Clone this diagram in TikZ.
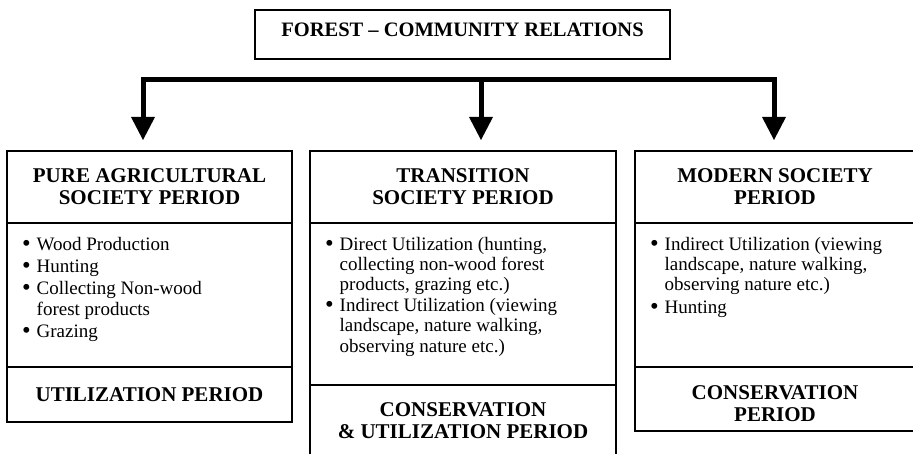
\documentclass[tikz,border=0pt]{standalone}
\usepackage{fontspec}
\setmainfont{Liberation Serif}
\usetikzlibrary{positioning,arrows.meta}
\newcommand\bul{\raisebox{-1pt}{\scalebox{1.3}{\textbullet}}}

\begin{document}
\begin{tikzpicture}[x=1pt, y=-1pt,
  head/.style={align=center, font=\bfseries\fontsize{21}{22}\selectfont},
  box/.style={draw, line width=1.5pt, outer sep=0pt, inner sep=0pt, head},
  items/.style={inner sep=0pt, font=\fontsize{19}{20.4}\selectfont},
  bus/.style={line width=5pt, line join=miter},
  tip/.style={-{Triangle[width=24pt,length=23pt,line width=0pt]}}]

\useasboundingbox (0,0) rectangle (913,454);

\node [box, minimum width=415pt, minimum height=49pt, text depth=9pt, font=\bfseries\fontsize{20.5}{22}\selectfont] (rel) at (462.5,34.5) {FOREST – COMMUNITY RELATIONS};

% pure agricultural society
\node [box, minimum width=285pt, minimum height=72pt, anchor=north] (pure) at (149.5,151) {PURE AGRICULTURAL\\SOCIETY PERIOD};
\node [box, minimum width=285pt, minimum height=144pt, below=0pt of pure] (pureB) {};
\node [box, minimum width=285pt, minimum height=55pt, below=0pt of pureB] (pureF) {UTILIZATION PERIOD};
\node [items, below right=12.6pt and 15pt of pureB.north west] (pureT) {%
  \begin{tabular}{@{}p{14.5pt}@{}l@{}}
  \bul & Wood Production\\[2pt]
  \bul & Hunting\\[2pt]
  \bul & Collecting Non-wood\\
       & forest products\\[2pt]
  \bul & Grazing
  \end{tabular}};

% transition society
\node [box, minimum width=306pt, minimum height=72pt, anchor=north] (trans) at (463,151) {TRANSITION\\SOCIETY PERIOD};
\node [box, minimum width=306pt, minimum height=162pt, below=0pt of trans] (transB) {};
\node [box, minimum width=306pt, minimum height=72pt, below=0pt of transB] (transF) {CONSERVATION\\\& UTILIZATION PERIOD};
\node [items, below right=12.6pt and 15pt of transB.north west] (transT) {%
  \begin{tabular}{@{}p{14.5pt}@{}l@{}}
  \bul & Direct Utilization (hunting,\\
       & collecting non-wood forest\\
       & products, grazing etc.)\\
  \bul & Indirect Utilization (viewing\\
       & landscape, nature walking,\\
       & observing nature etc.)
  \end{tabular}};

% modern society
\node [box, minimum width=280pt, minimum height=72pt, anchor=north] (modern) at (775,151) {MODERN SOCIETY\\PERIOD};
\node [box, minimum width=280pt, minimum height=144pt, below=0pt of modern] (modernB) {};
\node [box, minimum width=280pt, minimum height=64pt, below=0pt of modernB,
  label={[head, yshift=-4.5pt]center:CONSERVATION\\PERIOD}] (modernF) {};
\node [items, below right=12.6pt and 15pt of modernB.north west] (modernT) {%
  \begin{tabular}{@{}p{14.5pt}@{}l@{}}
  \bul & Indirect Utilization (viewing\\
       & landscape, nature walking,\\
       & observing nature etc.)\\[2pt]
  \bul & Hunting
  \end{tabular}};

% bus with the three arrows
\coordinate (bus) at (481,80);
\coordinate (tipP) at (143,140);
\coordinate (tipT) at (481,140);
\coordinate (tipM) at (774,140);
\draw [bus, tip] (bus) -| (tipP);
\draw [bus, tip] (bus) -| (tipM);
\draw [bus, tip] (bus) -- (tipT);
\end{tikzpicture}
\end{document}
